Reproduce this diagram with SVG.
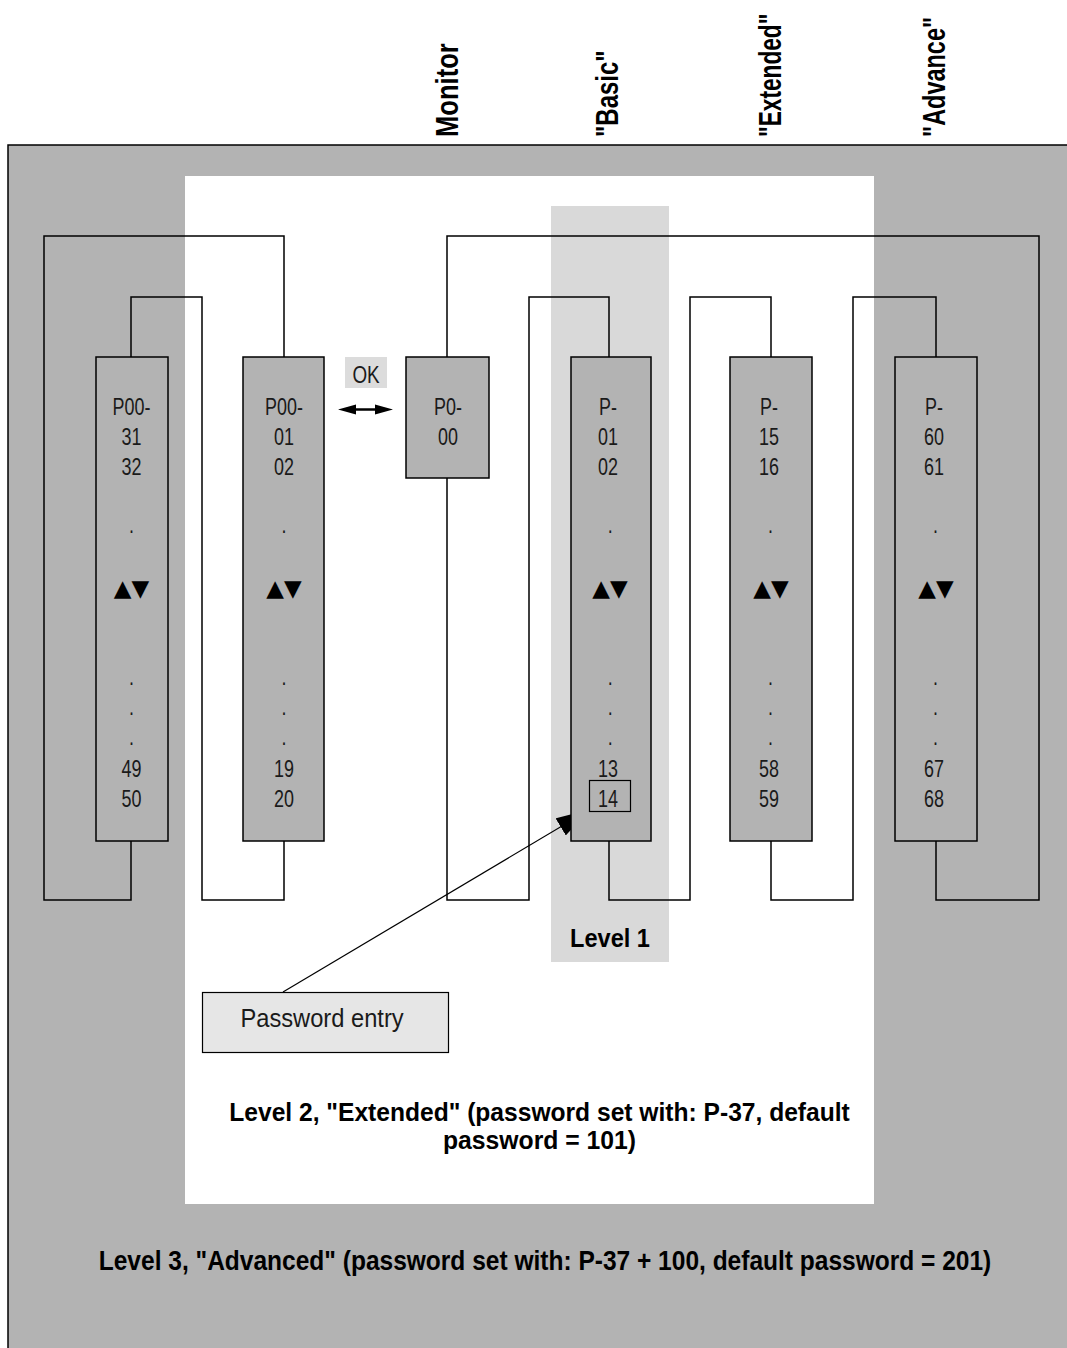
<svg xmlns="http://www.w3.org/2000/svg" width="1067" height="1348" viewBox="0 0 1067 1348">
<style>
.box{fill:#b3b3b3;stroke:#000;stroke-width:1.5}
.ln{fill:none;stroke:#000;stroke-width:1.5}
.t{font-family:"Liberation Sans Narrow","Liberation Sans",Arial,sans-serif;font-size:23px;fill:#1a1a1a;text-anchor:middle}
.tri{font-family:"DejaVu Sans",sans-serif;font-size:23px;fill:#000;text-anchor:middle}
.b{font-family:"Liberation Sans Narrow","Liberation Sans",Arial,sans-serif;font-weight:bold;fill:#000}
</style>
<defs>
<marker id="ah" markerUnits="userSpaceOnUse" markerWidth="34" markerHeight="20" viewBox="0 0 34 20" refX="33" refY="10" orient="auto">
<path d="M0,0 L34,10 L0,20 Z" fill="#000"/>
</marker>
</defs>
<g id="background">
<rect x="8" y="145" width="1070" height="1215" fill="#b3b3b3" stroke="#000" stroke-width="1.5"/>
<rect x="185" y="176" width="689" height="1028" fill="#fff"/>
<rect x="551" y="206" width="118" height="756" fill="#d9d9d9"/>
</g>
<g id="headers" class="b">
<text transform="translate(458,137) rotate(-90) scale(0.83,1)" font-size="31" textLength="113" lengthAdjust="spacingAndGlyphs">Monitor</text>
<text transform="translate(618,137) rotate(-90) scale(0.78,1)" font-size="31" textLength="111" lengthAdjust="spacingAndGlyphs">"Basic"</text>
<text transform="translate(781,137) rotate(-90) scale(0.73,1)" font-size="31" textLength="169" lengthAdjust="spacingAndGlyphs">"Extended"</text>
<text transform="translate(945,137) rotate(-90) scale(0.76,1)" font-size="31" textLength="158" lengthAdjust="spacingAndGlyphs">"Advance"</text>
</g>
<g id="connectors" class="ln">
<polyline points="284,357 284,236 44,236 44,900 131,900 131,841"/>
<polyline points="131,357 131,297 202,297 202,900 284,900 284,841"/>
<polyline points="447,357 447,236 1039,236 1039,900 936,900 936,841"/>
<polyline points="609,357 609,297 529,297 529,900 447,900 447,478"/>
<polyline points="771,357 771,297 690,297 690,900 609,900 609,841"/>
<polyline points="936,357 936,297 853,297 853,900 771,900 771,841"/>
<line x1="283" y1="992" x2="589" y2="810" stroke-width="1.2" marker-end="url(#ah)"/>
</g>
<g id="col-p00-31">
<rect class="box" x="96" y="357" width="72" height="484"/>
<g class="t" transform="translate(131.5,0) scale(0.78,1)">
<text x="0" y="415">P00-</text>
<text x="0" y="445">31</text>
<text x="0" y="475">32</text>
<text x="0" y="533">.</text>
<text x="0" y="685">.</text>
<text x="0" y="715">.</text>
<text x="0" y="745">.</text>
<text x="0" y="777">49</text>
<text x="0" y="807">50</text>
</g>
<text class="tri" x="131.5" y="596">▲▼</text>
</g>
<g id="col-p00-01">
<rect class="box" x="243" y="357" width="81" height="484"/>
<g class="t" transform="translate(284,0) scale(0.78,1)">
<text x="0" y="415">P00-</text>
<text x="0" y="445">01</text>
<text x="0" y="475">02</text>
<text x="0" y="533">.</text>
<text x="0" y="685">.</text>
<text x="0" y="715">.</text>
<text x="0" y="745">.</text>
<text x="0" y="777">19</text>
<text x="0" y="807">20</text>
</g>
<text class="tri" x="284" y="596">▲▼</text>
</g>
<g id="ok">
<rect x="345" y="357" width="42" height="31" fill="#dcdcdc"/>
<g class="t" transform="translate(366,0) scale(0.82,1)"><text x="0" y="383" font-size="23">OK</text></g>
<path d="M338,409.5 L356,404.5 L356,414.5 Z M393,409.5 L375,404.5 L375,414.5 Z" fill="#000"/>
<line x1="355" y1="409.5" x2="376" y2="409.5" stroke="#000" stroke-width="2.5"/>
</g>
<g id="col-p0-00">
<rect class="box" x="406" y="357" width="83" height="121"/>
<g class="t" transform="translate(448,0) scale(0.78,1)">
<text x="0" y="415">P0-</text>
<text x="0" y="445">00</text>
</g>
</g>
<g id="col-p-01">
<rect class="box" x="571" y="357" width="80" height="484"/>
<g class="t" transform="translate(608,0) scale(0.78,1)">
<text x="0" y="415">P-</text>
<text x="0" y="445">01</text>
<text x="0" y="475">02</text>
<text x="3" y="533">.</text>
<text x="3" y="685">.</text>
<text x="3" y="715">.</text>
<text x="3" y="745">.</text>
<text x="0" y="777">13</text>
<text x="0" y="807">14</text>
</g>
<text class="tri" x="610" y="596">▲▼</text>
<rect x="589.5" y="780.5" width="41" height="31" fill="none" stroke="#000" stroke-width="1.2"/>
</g>
<g id="col-p-15">
<rect class="box" x="730" y="357" width="82" height="484"/>
<g class="t" transform="translate(769,0) scale(0.78,1)">
<text x="0" y="415">P-</text>
<text x="0" y="445">15</text>
<text x="0" y="475">16</text>
<text x="2" y="533">.</text>
<text x="2" y="685">.</text>
<text x="2" y="715">.</text>
<text x="2" y="745">.</text>
<text x="0" y="777">58</text>
<text x="0" y="807">59</text>
</g>
<text class="tri" x="771" y="596">▲▼</text>
</g>
<g id="col-p-60">
<rect class="box" x="895" y="357" width="82" height="484"/>
<g class="t" transform="translate(934,0) scale(0.78,1)">
<text x="0" y="415">P-</text>
<text x="0" y="445">60</text>
<text x="0" y="475">61</text>
<text x="2" y="533">.</text>
<text x="2" y="685">.</text>
<text x="2" y="715">.</text>
<text x="2" y="745">.</text>
<text x="0" y="777">67</text>
<text x="0" y="807">68</text>
</g>
<text class="tri" x="936" y="596">▲▼</text>
</g>
<g id="level1">
<g class="b" transform="translate(610,947) scale(0.85,1)"><text font-size="25" text-anchor="middle" textLength="94" lengthAdjust="spacingAndGlyphs">Level 1</text></g>
</g>
<g id="password-entry">
<rect x="202.5" y="992.5" width="246" height="60" fill="#e6e6e6" stroke="#000" stroke-width="1.2"/>
<g class="t" transform="translate(322,1027) scale(0.85,1)"><text x="0" y="0" font-size="26" textLength="192" lengthAdjust="spacingAndGlyphs">Password entry</text></g>
</g>
<g id="level2" class="b">
<g transform="translate(539.5,1121) scale(0.85,1)"><text font-size="25" text-anchor="middle" textLength="730" lengthAdjust="spacingAndGlyphs">Level 2, "Extended" (password set with: P-37, default</text></g>
<g transform="translate(539.5,1149) scale(0.85,1)"><text font-size="25" text-anchor="middle" textLength="227" lengthAdjust="spacingAndGlyphs">password = 101)</text></g>
</g>
<g id="level3" class="b">
<g transform="translate(545,1270) scale(0.85,1)"><text font-size="28" text-anchor="middle" textLength="1050" lengthAdjust="spacingAndGlyphs">Level 3, "Advanced" (password set with: P-37 + 100, default password = 201)</text></g>
</g>
</svg>
